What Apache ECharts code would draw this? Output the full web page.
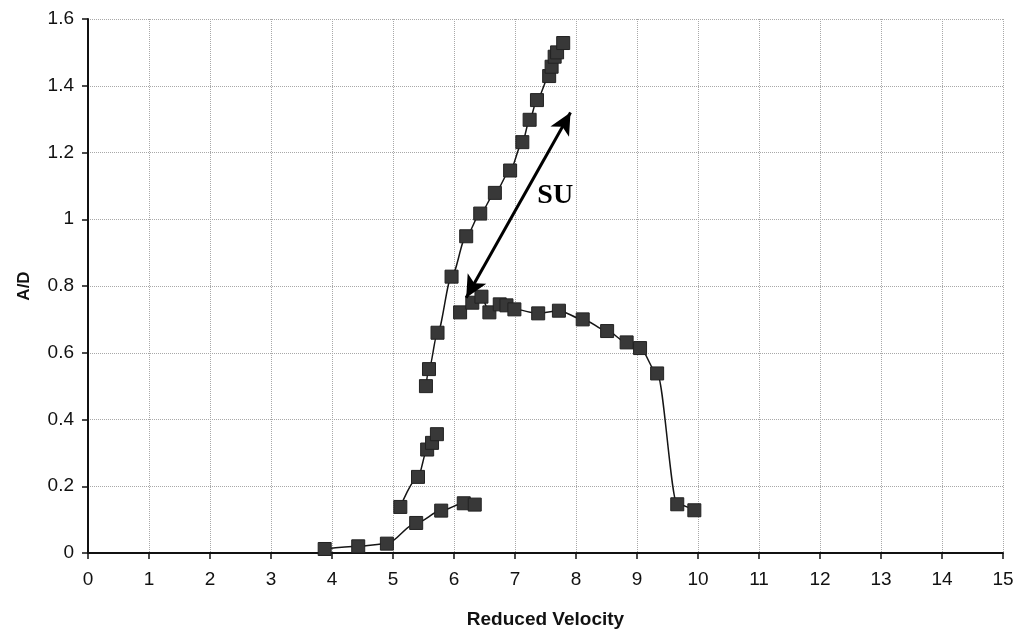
<!DOCTYPE html>
<html>
<head>
<meta charset="utf-8">
<script src="https://cdn.jsdelivr.net/npm/echarts@6/dist/echarts.min.js"></script>
<style>
html,body{margin:0;padding:0;background:#fff;}
#chart{width:1025px;height:634px;}
</style>
</head>
<body>
<div id="chart"></div>
<script>
// Tick settings
var xMin = 0, xMax = 15, xStep = 1;
var yMin = 0, yMax = 1.6, yStep = 0.2;

// Series A: low branch near the axis
var xA = [3.88, 4.43, 4.90, 5.38, 5.79, 6.16, 6.34];
var yA = [0.012, 0.020, 0.028, 0.090, 0.127, 0.149, 0.145];

// Series B: short rising branch
var xB = [5.12, 5.41, 5.56, 5.64, 5.72];
var yB = [0.138, 0.228, 0.310, 0.330, 0.356];

// Series D: steep upper branch
var xD = [5.54, 5.59, 5.73, 5.96, 6.20, 6.43, 6.67, 6.92, 7.12, 7.24, 7.36, 7.56, 7.60, 7.65, 7.69, 7.79];
var yD = [0.500, 0.551, 0.660, 0.828, 0.949, 1.017, 1.079, 1.146, 1.231, 1.298, 1.357, 1.429, 1.457, 1.487, 1.500, 1.528];

// Series C: plateau branch then drop
var xC = [6.10, 6.30, 6.45, 6.58, 6.75, 6.86, 6.99, 7.38, 7.72, 8.11, 8.51, 8.83, 9.05, 9.33, 9.66, 9.94];
var yC = [0.721, 0.750, 0.768, 0.721, 0.745, 0.742, 0.730, 0.718, 0.726, 0.700, 0.665, 0.631, 0.614, 0.538, 0.146, 0.128];

// Annotation
var arrowStart = [6.20, 0.765];
var arrowEnd = [7.91, 1.32];
var noteText = 'SU';
var notePos = [7.66, 1.07];

function pairs(xs, ys){ return xs.map(function(x,i){ return [x, ys[i]]; }); }

var markerStyle = { color: '#383838', borderColor: '#222', borderWidth: 1 };
var lineStyle = { color: '#151515', width: 1.5 };

function mkSeries(name, xs, ys){
  return {
    name: name, type: 'line', data: pairs(xs, ys),
    symbol: 'rect', symbolSize: 13, smooth: 0.3, smoothMonotone: 'x',
    itemStyle: markerStyle, lineStyle: lineStyle, z: 3
  };
}

var chart = echarts.init(document.getElementById('chart'));
var sC = mkSeries('C', xC, yC);
sC.markLine = {
  silent: true,
  symbol: ['arrow', 'arrow'], symbolSize: [16, 22],
  label: { show: false },
  lineStyle: { color: '#000', width: 3, type: 'solid' },
  data: [[{ coord: arrowStart }, { coord: arrowEnd }]]
};
sC.markPoint = {
  silent: true,
  symbol: 'rect', symbolSize: 1,
  itemStyle: { color: 'rgba(0,0,0,0)' },
  label: { show: true, formatter: noteText, color: '#000',
    fontFamily: 'Liberation Serif, DejaVu Serif, serif', fontWeight: 'bold', fontSize: 28 },
  data: [{ coord: notePos }]
};

var option = {
  backgroundColor: '#fff',
  animation: false,
  grid: { left: 88, right: 22, top: 19, bottom: 77 },
  xAxis: {
    type: 'value', min: xMin, max: xMax, interval: xStep,
    name: 'Reduced Velocity', nameLocation: 'middle', nameGap: 57,
    nameTextStyle: { fontFamily: 'Liberation Sans, Arial, sans-serif', fontWeight: 'bold', fontSize: 19, color: '#111' },
    axisLine: { show: true, onZero: false, lineStyle: { color: '#111', width: 2 } },
    axisTick: { show: true, length: 6, lineStyle: { color: '#111', width: 1.5 } },
    axisLabel: { fontFamily: 'Liberation Sans, Arial, sans-serif', fontSize: 19, color: '#111', margin: 17 },
    splitLine: { show: true, lineStyle: { color: '#a8a8a8', type: 'dotted', width: 1 } }
  },
  yAxis: {
    type: 'value', min: yMin, max: yMax, interval: yStep,
    name: 'A/D', nameLocation: 'middle', nameGap: 55, nameRotate: 90,
    nameTextStyle: { fontFamily: 'Liberation Sans, Arial, sans-serif', fontWeight: 'bold', fontSize: 17, color: '#111', padding: [0, 0, 0, 0] },
    axisLine: { show: true, onZero: false, lineStyle: { color: '#111', width: 2 } },
    axisTick: { show: true, length: 6, lineStyle: { color: '#111', width: 1.5 } },
    axisLabel: { fontFamily: 'Liberation Sans, Arial, sans-serif', fontSize: 19, color: '#111', margin: 14 },
    splitLine: { show: true, lineStyle: { color: '#a8a8a8', type: 'dotted', width: 1 } }
  },
  series: [
    mkSeries('A', xA, yA),
    mkSeries('B', xB, yB),
    mkSeries('D', xD, yD),
    sC
  ]
};
chart.setOption(option);
</script>
</body>
</html>
